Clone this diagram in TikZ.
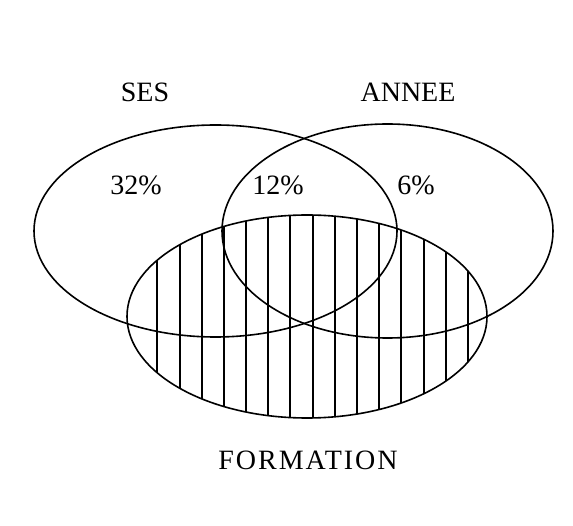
\documentclass[tikz,border=0pt]{standalone}
\usepackage{fontspec}
\setmainfont{Liberation Serif}
\usepackage{tikz}

\begin{document}
\begin{tikzpicture}[x=1pt,y=-1pt,line width=1.6pt,
  lbl/.style={font=\fontsize{28}{30}\selectfont,inner sep=0pt},
  hatch/.style={line width=2pt}]
  % centres and radii, in pixels of the reference
  \def\sesx{215.5}  \def\sesy{231}
  \def\anx{387.5}   \def\any{231}
  \def\fox{307}     \def\foy{316.5}

  \useasboundingbox (0,0) rectangle (573,526);

  % hatching inside FORMATION
  \begin{scope}
    \clip (\fox,\foy) ellipse [x radius=180, y radius=101.5];
    \foreach \i in {0,...,14}{
      \pgfmathtruncatemacro\hx{round(157.3+22.2*\i)}
      \draw[hatch] (\hx,200) -- ++(0,230);
    }
  \end{scope}

  % the three sets
  \draw (\sesx,\sesy) ellipse [x radius=181.5, y radius=106];
  \draw (\anx,\any) ellipse [x radius=165.5, y radius=107];
  \draw (\fox,\foy) ellipse [x radius=180, y radius=101.5];

  % labels
  \node[lbl] (ses) at (145,92) {SES};
  \node[lbl] (annee) at (408,92) {ANNEE};
  \node[lbl] (pses) at (136,185) {32\%};
  \node[lbl] (pboth) at (278,185) {12\%};
  \node[lbl] (pannee) at (416,185) {6\%};
  \node[lbl] (formation) at (308,460) {\addfontfeature{LetterSpace=7}FORMATION};
\end{tikzpicture}
\end{document}
